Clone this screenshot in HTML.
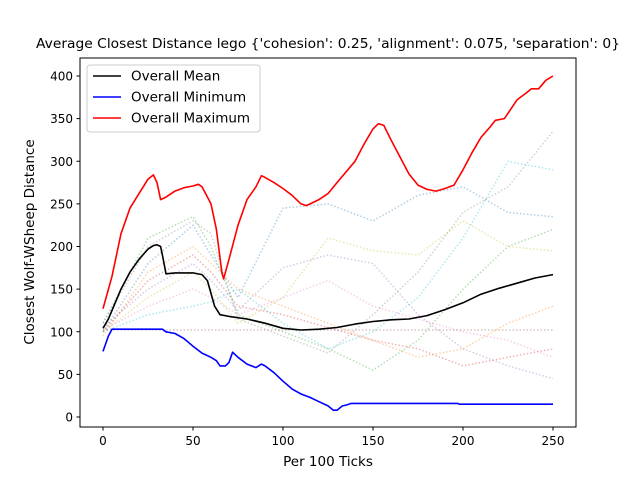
<!DOCTYPE html>
<html><head><meta charset="utf-8"><style>
body{margin:0;background:#fff;}
svg text{font-family:"DejaVu Sans","Liberation Sans",sans-serif;}
</style></head><body>
<svg id="chart" width="640" height="480" viewBox="0 0 640 480" xmlns="http://www.w3.org/2000/svg">
<rect width="640" height="480" fill="#fff"/>
<text x="328" y="48" font-size="13" textLength="584" lengthAdjust="spacingAndGlyphs" text-anchor="middle">Average Closest Distance lego {'cohesion': 0.25, 'alignment': 0.075, 'separation': 0}</text>
<g id="faint"></g>
<g id="main"></g>
<rect x="80" y="58" width="496" height="369" fill="none" stroke="#000" stroke-width="1"/>
<g id="xt"></g>
<g id="yt"></g>
<text x="328" y="466" font-size="13.5" text-anchor="middle">Per 100 Ticks</text>
<text transform="translate(34,242) rotate(-90)" font-size="13.5" text-anchor="middle">Closest Wolf-WSheep Distance</text>
<g>
<rect x="87" y="65" width="173" height="67" rx="3" fill="#fff" fill-opacity="0.8" stroke="#ccc"/>
<line x1="93" y1="76" x2="121" y2="76" stroke="#000" stroke-width="1.5"/>
<text x="131" y="80.5" font-size="13.5">Overall Mean</text>
<line x1="93" y1="97" x2="121" y2="97" stroke="#0000ff" stroke-width="1.5"/>
<text x="131" y="101.5" font-size="13.5">Overall Minimum</text>
<line x1="93" y1="118" x2="121" y2="118" stroke="#ff0000" stroke-width="1.5"/>
<text x="131" y="122.5" font-size="13.5">Overall Maximum</text>
</g>
</svg>
<script>
const xTicks=[0,50,100,150,200,250];
const yTicks=[0,50,100,150,200,250,300,350,400];
const maxX=[0,5,10,15,20,25,28,30,32,35,40,45,50,53,55,60,63,66,67,70,75,80,85,88,90,95,100,105,110,113,120,125,130,140,145,150,153,156,160,165,170,175,180,185,190,195,200,205,210,215,218,223,230,235,238,242,246,250];
const maxY=[127,165,215,245,262,279,284,275,255,258,265,269,271,273,270,250,220,170,162,185,225,255,270,283,281,275,268,260,250,248,255,262,275,300,320,338,344,342,325,305,285,272,267,265,268,272,290,310,328,340,348,350,372,380,385,385,395,400];
const meanX=[0,3,5,10,15,20,25,28,30,32,33,35,40,50,55,58,62,65,70,80,90,100,110,120,130,140,150,160,170,180,190,200,210,220,230,240,250];
const meanY=[104,115,125,150,170,185,197,201,202,200,190,168,169,169,167,160,130,120,118,115,110,104,102,103,105,109,112,114,115,119,126,134,144,151,157,163,167];
const minX=[0,3,5,10,20,30,33,35,40,45,50,55,60,63,65,68,70,72,75,80,85,88,90,95,100,105,110,115,120,125,128,130,133,135,138,150,197,198,250];
const minY=[77,95,103,103,103,103,103,100,98,92,83,75,70,66,60,60,64,76,70,62,58,62,60,52,42,33,27,23,18,13,8,8,13,14,16,16,16,15,15];
const runX=[0,25,50,60,75,100,125,150,175,200,225,250];
const run1=[110,210,235,200,120,100,80,55,90,150,200,220];
const run2=[100,180,225,190,140,245,250,230,260,270,240,235];
const run3=[95,170,200,180,150,130,110,90,70,80,110,130];
const run4=[100,160,190,170,130,120,105,90,80,60,70,80];
const run5=[105,150,180,160,125,175,190,180,120,80,60,45];
const run6=[100,120,130,135,150,110,80,100,140,210,300,290];
const run7=[100,140,170,150,110,140,210,195,190,230,200,195];
const run8=[102,130,150,140,120,140,160,130,115,100,90,70];
const run9=[102,102,102,102,102,102,102,102,102,102,102,102];
const run10=[110,200,230,215,115,95,75,120,170,240,270,335];
const runs=[run1,run2,run3,run4,run5,run6,run7,run8,run9,run10];
const runColors=['#2ca02c','#1f77b4','#ff7f0e','#d62728','#9467bd','#17becf','#bcbd22','#e377c2','#8c564b','#7f7f7f'];
const NS='http://www.w3.org/2000/svg';
function sx(v){return 103+v*1.8;}
function sy(v){return 417-v*0.8525;}
function pathOf(xs,ys){return xs.map((x,i)=>(i?'L':'M')+sx(x).toFixed(1)+','+sy(ys[i]).toFixed(1)).join('');}
const faint=document.getElementById('faint');
runs.forEach((r,i)=>{
 const p=document.createElementNS(NS,'path');
 p.setAttribute('d',pathOf(runX,r));
 p.setAttribute('fill','none');p.setAttribute('stroke',runColors[i]);
 p.setAttribute('stroke-opacity','0.35');p.setAttribute('stroke-width','1.5');
 p.setAttribute('stroke-dasharray','1.5,2');
 
 
 faint.appendChild(p);
});
const main=document.getElementById('main');
[[meanX,meanY,'#000','mean-line'],[minX,minY,'#0000ff','minimum-line'],[maxX,maxY,'#ff0000','maximum-line']].forEach(s=>{
 const p=document.createElementNS(NS,'path');
 p.setAttribute('d',pathOf(s[0],s[1]));
 p.setAttribute('fill','none');p.setAttribute('stroke',s[2]);p.setAttribute('stroke-width','1.6');
 p.setAttribute('stroke-linejoin','round');
 
 
 main.appendChild(p);
});
const xt=document.getElementById('xt');
xTicks.forEach(v=>{
 const l=document.createElementNS(NS,'line');
 l.setAttribute('x1',sx(v));l.setAttribute('x2',sx(v));l.setAttribute('y1',427);l.setAttribute('y2',430.5);l.setAttribute('stroke','#000');
 
 
 xt.appendChild(l);
 const t=document.createElementNS(NS,'text');
 t.setAttribute('x',sx(v));t.setAttribute('y',445);t.setAttribute('font-size','12');t.setAttribute('text-anchor','middle');
 t.textContent=v;
 
 
 xt.appendChild(t);
});
const yt=document.getElementById('yt');
yTicks.forEach(v=>{
 const l=document.createElementNS(NS,'line');
 l.setAttribute('x1',76.5);l.setAttribute('x2',80);l.setAttribute('y1',sy(v));l.setAttribute('y2',sy(v));l.setAttribute('stroke','#000');
 
 
 yt.appendChild(l);
 const t=document.createElementNS(NS,'text');
 t.setAttribute('x',73);t.setAttribute('y',sy(v)+4.5);t.setAttribute('font-size','12');t.setAttribute('text-anchor','end');
 t.textContent=v;
 
 
 yt.appendChild(t);
});
</script>
</body></html>
